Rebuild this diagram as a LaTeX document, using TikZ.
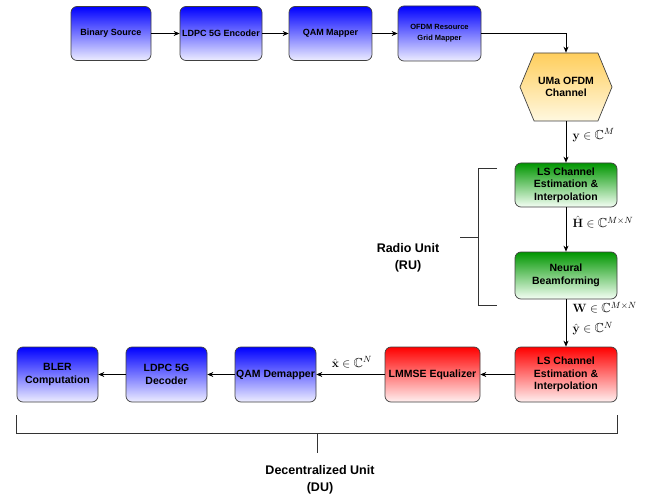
\documentclass[tikz,border=0pt]{standalone}
\usepackage[no-math]{fontspec}
\setmainfont{Liberation Sans}
\usepackage{amsmath,amssymb}
\usetikzlibrary{arrows.meta,shapes.symbols}
\definecolor{hexgold}{RGB}{255,206,92}
\definecolor{hexcream}{RGB}{255,248,224}
\definecolor{lsgreen}{RGB}{0,150,0}
\begin{document}
\begin{tikzpicture}[x=1pt,y=-1pt,
		block/.style={draw=black!75,line width=0.7pt,rounded corners=6pt,align=center,inner sep=1pt},
		topfont/.style={font=\bfseries\fontsize{9}{11}\selectfont},
		lowfont/.style={font=\bfseries\fontsize{10.5}{12.5}\selectfont},
		blueblock/.style={block,top color=blue,bottom color=blue!7,minimum width=81pt,minimum height=54pt},
		greenblock/.style={block,lowfont,top color=lsgreen,bottom color=green!4,minimum width=102pt},
		redblock/.style={block,lowfont,top color=red,bottom color=red!6,minimum height=55pt},
		link/.style={-{Stealth[length=6pt,width=5pt]},line width=0.7pt},
		mlabel/.style={font=\fontsize{13}{15}\selectfont},
		sidelabel/.style={mlabel,anchor=west,xshift=3pt},
		bracket/.style={line width=1pt,black!80},
		unitlabel/.style={align=center,font=\bfseries\fontsize{12.5}{17}\selectfont}]
	\useasboundingbox (0,0) rectangle (651,500);
	\node[blueblock,topfont,minimum width=80pt] (src) at (111,33.5) {Binary Source};
	\node[blueblock,topfont,minimum width=82pt] (enc) at (221,33.5) {LDPC 5G Encoder};
	\node[blueblock,topfont,minimum width=83pt] (qmap) at (330.5,33.5) {QAM Mapper};
	\node[blueblock,minimum width=83pt,minimum height=55pt,font=\bfseries\fontsize{7.5}{11}\selectfont] (grid) at (439.5,33.5) {OFDM Resource\\Grid Mapper};
	\node[signal,signal to=east and west,signal pointer angle=135,draw=black!75,line width=0.7pt,top color=hexgold,bottom color=hexcream,
		minimum width=92pt,minimum height=68pt,inner sep=1pt,align=center,lowfont] (chan) at (566,87) {UMa OFDM\\Channel};
	\node[greenblock,minimum height=44pt] (lsru) at (566,185) {LS Channel\\Estimation \&\\Interpolation};
	\node[greenblock,minimum height=47pt] (bf) at (566,275.5) {Neural\\Beamforming};
	\node[redblock,minimum width=102pt] (lsdu) at (566,374.5) {LS Channel\\Estimation \&\\Interpolation};
	\node[redblock,minimum width=95pt] (eq) at (432.5,374.5) {LMMSE Equalizer};
	\node[blueblock,lowfont,minimum height=55pt] (demap) at (275.5,374.5) {QAM Demapper};
	\node[blueblock,lowfont,minimum height=55pt] (dec) at (166.5,374.5) {LDPC 5G\\Decoder};
	\node[blueblock,lowfont,minimum height=55pt] (bler) at (57.5,374.5) {BLER\\Computation};
	\draw[link] (src) -- (enc);
	\draw[link] (enc) -- (qmap);
	\draw[link] (qmap) -- (grid);
	\draw[link] (grid.east) -| (chan.north);
	\draw[link] (chan.south) -- node[sidelabel,pos=0.33] {$\mathbf{y}\in\mathbb{C}^{M}$} (lsru.north);
	\draw[link] (lsru) -- node[sidelabel,pos=0.33] {$\hat{\mathbf{H}}\in\mathbb{C}^{M\times N}$} (bf);
	\draw[link] (bf) -- node[sidelabel,pos=0.17] {$\mathbf{W}\in\mathbb{C}^{M\times N}$}
		node[sidelabel,pos=0.62] {$\hat{\mathbf{y}}\in\mathbb{C}^{N}$} (lsdu);
	\draw[link] (lsdu) -- (eq);
	\draw[link] (eq) -- node[mlabel,above=3pt,pos=0.48] {$\hat{\mathbf{x}}\in\mathbb{C}^{N}$} (demap);
	\draw[link] (demap) -- (dec);
	\draw[link] (dec) -- (bler);
	\draw[bracket] (497,169) -- (478,169) -- (478,305) -- (497,305);
	\draw[bracket] (478,237) -- (460,237);
	\node[unitlabel] (ru) at (408,258) {Radio Unit\\(RU)};
	\draw[bracket] (16,415) -- (16,433) -- (617,433) -- (617,415);
	\draw[bracket] (317,433) -- (317,453);
	\node[unitlabel] (du) at (320,480) {Decentralized Unit\\(DU)};
\end{tikzpicture}
\end{document}
